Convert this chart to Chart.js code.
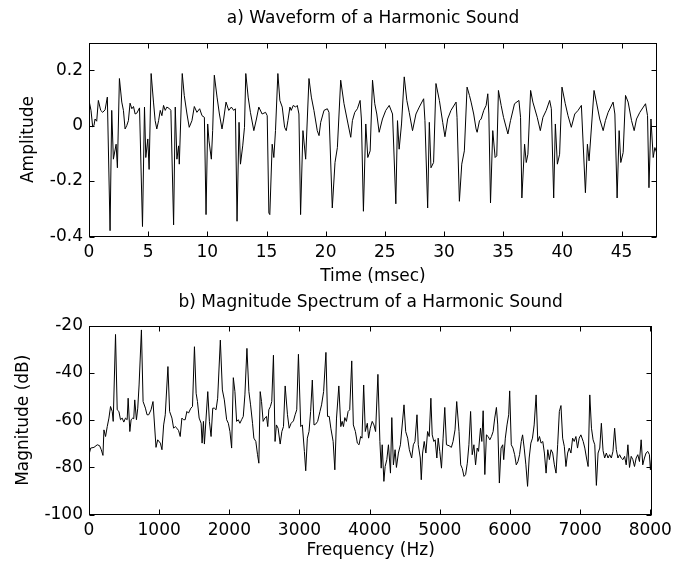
<!DOCTYPE html>
<html>
<head>
<meta charset="utf-8">
<script src="https://cdn.jsdelivr.net/npm/chart.js@4"></script>
<style>
  html, body { margin: 0; padding: 0; background: #fff; }
  body { width: 678px; height: 567px; position: relative; overflow: hidden; }
  .box { position: absolute; left: 0; width: 678px; }
  #boxA { top: 0; height: 300px; }
  #boxB { top: 283px; height: 284px; }
</style>
</head>
<body>
<div class="box" id="boxA"><canvas id="waveChart"></canvas></div>
<div class="box" id="boxB"><canvas id="specChart"></canvas></div>
<script>
// a) waveform, read off the picture period by period (time in msec, amplitude)
var timeMs = [
  0,0.17,0.31,0.42,0.51,0.65,0.79,0.99,1.16,1.36,1.55,
  1.78,1.92,2.06,2.29,2.40,2.57,2.77,2.91,3.05,3.19,3.33,3.47,3.62,3.76,3.90,4.04,4.27,
  4.52,4.69,4.80,4.97,5.08,5.25,5.45,5.59,5.73,5.88,6.02,6.16,6.30,6.44,6.58,6.81,6.92,
  7.15,7.29,7.43,7.57,7.63,7.88,8.05,8.28,8.47,8.70,8.90,9.12,9.35,9.55,9.75,
  9.89,10.03,10.14,10.34,10.45,10.59,10.82,11.02,11.24,11.38,11.58,11.81,12.03,12.23,12.37,
  12.51,12.68,12.80,12.99,13.14,13.25,13.45,13.64,13.93,14.15,14.35,14.63,14.92,15.06,
  15.20,15.28,15.48,15.62,15.76,15.96,16.13,16.33,16.53,16.67,16.81,16.98,17.09,17.26,17.46,17.60,17.74,
  17.88,18.08,18.31,18.59,18.79,19.01,19.29,19.44,19.58,19.86,20.14,20.28,
  20.56,20.79,20.99,21.27,21.55,21.89,22.12,22.26,22.46,22.68,22.91,23.02,
  23.19,23.39,23.56,23.76,23.96,24.15,24.32,24.52,24.80,25.08,25.37,25.65,
  25.93,26.07,26.21,26.41,26.64,26.86,27.06,27.34,27.63,27.91,28.28,28.39,
  28.62,28.76,28.90,29.12,29.32,29.61,29.89,30.08,30.31,30.59,31.02,31.10,
  31.30,31.50,31.72,31.95,32.15,32.29,32.51,32.71,32.80,33.00,33.14,33.36,33.56,33.70,33.79,
  33.93,34.12,34.32,34.46,34.60,34.83,35.03,35.40,35.62,35.96,36.33,36.47,
  36.58,36.81,36.95,37.09,37.32,37.51,37.88,38.14,38.36,38.64,38.93,39.07,
  39.27,39.41,39.58,39.77,39.97,40.25,40.48,40.76,41.05,41.33,41.61,
  41.95,42.12,42.26,42.68,42.88,43.16,43.45,43.64,43.87,44.29,44.44,
  44.63,44.80,44.94,45.14,45.34,45.56,45.85,46.07,46.27,46.55,47.03,47.20,
  47.32,47.49,47.68,47.82,47.97,48.0
];
var amplitude = [
  0.091,0.055,-0.004,0,0.024,0.016,0.091,0.055,0.048,0.057,0.103,
  -0.379,0.055,-0.121,-0.067,-0.152,0.170,0.085,0.055,-0.012,0,0.018,0.081,0.061,0.069,0.042,0.045,0.064,
  -0.364,0.067,-0.115,-0.048,-0.158,0.188,0.085,0.018,-0.012,0.018,0.055,0.036,0.073,0.055,0.067,0.061,0.055,
  -0.358,0.067,-0.121,-0.073,-0.139,0.188,0.109,0.042,-0.006,0.018,0.069,0.048,0.061,0.036,0.030,
  -0.321,0.006,-0.055,-0.121,-0.018,0.182,0.103,0.042,-0.012,0.024,0.085,0.055,0.067,0.055,0.061,
  -0.345,0.012,-0.139,-0.073,-0.006,0.188,0.103,0.048,-0.018,0.024,0.067,0.042,0.048,0.036,
  -0.315,-0.321,-0.067,-0.115,-0.018,0.188,0.091,0.067,-0.006,-0.018,0.018,0.067,0.055,0.073,0.067,0.073,0.042,
  -0.321,-0.018,-0.121,0.170,0.103,0.055,-0.018,-0.036,0.012,0.055,0.061,0.048,
  -0.297,-0.133,-0.079,0.164,0.079,0.006,-0.042,0.018,0.048,0.061,0.091,0.024,
  -0.309,0.006,-0.115,-0.091,0.164,0.079,0.042,-0.024,0.024,0.055,0.073,0.042,
  -0.282,0.018,-0.085,0.006,0.176,0.091,0.048,-0.018,0.042,0.067,0.097,0.018,
  -0.297,0.012,-0.152,-0.133,0.152,0.091,0.012,-0.040,0.024,0.055,0.085,0.030,
  -0.273,-0.139,-0.091,0.139,0.109,0.085,0.042,-0.012,-0.024,0.018,0.024,0.055,0.073,0.115,0.042,
  -0.279,-0.018,-0.115,-0.109,0.127,0.073,0.030,-0.030,0.018,0.079,0.091,0.030,
  -0.261,-0.067,-0.133,-0.103,0.127,0.085,0.030,-0.018,0.030,0.055,0.091,0.061,
  -0.261,0.006,-0.139,-0.103,0.139,0.079,0.036,-0.006,0.042,0.055,0.073,
  -0.242,-0.067,-0.127,0.127,0.085,0.024,-0.018,0.018,0.048,0.085,0.042,
  -0.261,-0.018,-0.133,-0.097,0.109,0.085,0.018,-0.018,0.024,0.048,0.079,0.036,
  -0.224,0.024,-0.115,-0.079,-0.097,0.097
];
var timeTicks = [0, 5, 10, 15, 20, 25, 30, 35, 40, 45];
var ampTicks = [-0.4, -0.2, 0, 0.2];

// b) magnitude spectrum (Hz, dB)
var freqHz = [
  0,24,71,118,151,175,199,213,236,260,284,307,331,345,
  378,402,426,449,473,496,520,544,558,582,600,624,638,652,676,695,714,
  747,771,804,827,851,884,912,955,979,1017,1040,1064,1087,
  1125,1149,1182,1206,1229,1253,1277,1300,1324,1347,1371,1395,1418,1452,1475,
  1503,1527,1546,1570,1598,1612,1631,1645,1693,1716,1740,1764,1787,1811,1834,
  1872,1901,1929,1962,1986,2009,2033,2057,2080,2104,2128,2151,2175,2199,2222,
  2251,2279,2303,2331,2350,2378,2402,2421,2440,2459,2482,2506,2530,2548,2563,2586,2605,
  2629,2652,2671,2695,2725,2749,2772,2796,2829,2853,2881,2914,2938,2961,
  2985,3018,3041,3070,3089,3112,3136,3159,3183,3207,3230,3259,3292,3315,3344,
  3377,3400,3424,3447,3480,3504,3528,3561,3589,3608,3627,3646,3669,3693,3716,
  3745,3768,3797,3825,3849,3872,3891,3915,3938,3967,3985,4009,4037,4061,4085,
  4118,4146,4165,4179,4203,4221,4245,4268,4297,4316,4339,4363,4382,4410,4439,
  4490,4514,4542,4566,4599,4623,4646,4675,4693,4722,4736,4755,4778,4802,4826,4849,
  4873,4892,4915,4934,4958,4977,5000,5024,5047,5071,5095,5132,5165,5189,5217,
  5241,5274,5298,5321,5345,5368,5392,5415,5439,5462,5486,5510,5533,5552,5580,5599,
  5618,5642,5665,5689,5713,5736,5760,5783,5807,5826,5849,5873,5897,5911,5934,5958,5982,
  5996,6019,6043,6067,6090,6114,6137,6161,6180,6203,6227,6251,6274,6298,6321,6345,
  6373,6397,6421,6444,6468,6491,6515,6539,6562,6586,6609,6633,6657,6680,6704,
  6727,6751,6775,6798,6822,6845,6869,6893,6916,6940,6963,6987,7011,7044,7067,7091,7114,
  7138,7162,7185,7209,7232,7256,7280,7303,7327,7350,7374,7398,7421,7445,7468,
  7492,7516,7539,7563,7586,7610,7634,7657,7681,7704,7728,7752,7775,7799,7822,7846,7870,7893,7917,7940,7964,7988,8002,8016
];
var magnitudeDb = [
  -74.6,-71.8,-71.5,-70.4,-70.8,-72.5,-74.9,-64.1,-66.9,-62.7,-59.1,-54.2,-56.3,-60.5,
  -23.7,-55.6,-56.3,-59.8,-59.1,-60.8,-59.1,-59.8,-50.7,-64.8,-59.8,-59.1,-59.4,-51.4,-59.8,-54.9,-45.1,
  -21.8,-52.1,-54.9,-57.7,-57.7,-55.6,-52.1,-71.5,-68.3,-69.7,-72.5,-62.0,-57.7,
  -37.3,-56.3,-59.1,-63.4,-62.7,-63.4,-64.4,-66.9,-59.1,-59.8,-59.8,-56.3,-57.0,-54.9,-54.2,
  -28.9,-48.6,-52.1,-59.1,-61.3,-69.7,-60.5,-70.1,-47.9,-60.5,-66.9,-54.9,-54.9,-55.6,-50.7,
  -26.1,-47.2,-51.4,-59.8,-61.3,-64.8,-71.8,-42.0,-47.9,-60.5,-59.8,-61.3,-59.8,-58.4,-49.3,
  -29.6,-47.9,-53.5,-61.3,-67.6,-69.0,-74.6,-78.2,-47.9,-52.1,-60.5,-59.1,-58.4,-62.7,-55.6,-54.2,-52.1,
  -32.5,-69.0,-62.0,-63.4,-70.1,-64.8,-62.7,-45.5,-57.7,-63.4,-61.3,-60.3,-57.7,-55.6,
  -32.1,-62.7,-62.0,-73.2,-81.4,-67.6,-64.8,-56.3,-43.0,-62.0,-61.7,-60.5,-56.3,-53.5,-47.9,
  -31.3,-58.4,-58.4,-63.4,-69.0,-81.0,-59.1,-45.5,-62.7,-60.5,-62.7,-58.9,-60.5,-56.3,-55.6,
  -34.9,-62.0,-64.8,-69.7,-70.4,-66.9,-67.6,-45.1,-64.8,-61.3,-67.6,-63.4,-60.5,-62.0,-64.8,
  -40.6,-69.0,-80.3,-70.4,-85.9,-79.6,-76.7,-70.4,-82.4,-58.9,-78.9,-72.5,-80.0,-73.9,-70.4,
  -53.5,-64.8,-67.6,-72.5,-76.0,-70.4,-69.0,-57.7,-70.4,-76.0,-85.2,-73.9,-69.0,-73.9,-64.8,-66.9,
  -50.7,-66.2,-69.0,-68.3,-76.0,-67.6,-73.2,-80.3,-67.6,-54.6,-70.4,-70.8,-71.5,-69.0,-64.1,
  -52.1,-64.8,-78.9,-80.5,-83.8,-83.0,-78.2,-70.4,-56.3,-74.6,-70.4,-78.9,-71.8,-73.2,-63.4,-69.0,
  -56.0,-83.0,-66.2,-66.9,-68.3,-66.9,-64.8,-59.1,-54.6,-62.0,-86.6,-71.8,-70.4,-76.7,-67.6,-62.0,-57.7,
  -47.6,-70.4,-71.8,-74.6,-78.9,-77.5,-74.6,-69.0,-66.2,-71.8,-78.9,-88.0,-76.0,-69.7,-67.6,-62.0,
  -49.3,-69.0,-66.9,-69.7,-69.0,-73.9,-82.4,-72.5,-76.7,-72.5,-73.9,-78.9,-82.4,-70.4,-56.3,
  -53.8,-67.6,-71.1,-79.6,-73.9,-71.8,-73.9,-67.6,-69.0,-66.9,-71.8,-67.6,-66.2,-69.0,-71.8,-76.0,-79.6,
  -49.3,-63.4,-68.3,-70.4,-87.6,-73.9,-71.8,-61.3,-72.9,-76.0,-73.9,-76.0,-74.6,-76.0,-73.2,
  -63.4,-72.5,-76.0,-74.6,-76.0,-76.7,-75.3,-78.9,-70.4,-80.0,-75.3,-76.7,-79.6,-76.0,-74.6,-77.5,-68.3,-78.9,-76.0,-73.9,-73.2,-74.6,-81.0,-76.7
];
var freqTicks = [0, 1000, 2000, 3000, 4000, 5000, 6000, 7000, 8000];
var dbTicks = [-100, -80, -60, -40, -20];

var FONT = "'DejaVu Sans', 'Liberation Sans', Arial, sans-serif";
var FS = 17;

function toPoints(xs, ys) {
    var pts = [];
    for (var i = 0; i < xs.length; i++) pts.push({x: xs[i], y: ys[i]});
    return pts;
}

function fixedTicks(list) {
    return function (s) {
        s.ticks = list.map(function (v) { return {value: v}; });
    };
}

function plain(v) {
    return String(Math.round(v * 100) / 100);
}

// matlab style box with ticks pointing into the plot on all four sides
var boxTicks = {
    id: "boxTicks",
    afterDatasetsDraw: function (chart) {
        var ctx = chart.ctx, a = chart.chartArea;
        var xs = chart.scales.x, ys = chart.scales.y;
        var L = Math.round(a.left) + 0.5, R = Math.round(a.right) - 0.5;
        var T = Math.round(a.top) + 0.5, B = Math.round(a.bottom) - 0.5;
        ctx.save();
        ctx.strokeStyle = "#000";
        ctx.lineWidth = 1;
        ctx.strokeRect(L, T, R - L, B - T);
        ctx.beginPath();
        xs.ticks.forEach(function (t) {
            var px = Math.round(xs.getPixelForValue(t.value)) + 0.5;
            ctx.moveTo(px, B); ctx.lineTo(px, B - 5);
            ctx.moveTo(px, T); ctx.lineTo(px, T + 5);
        });
        ys.ticks.forEach(function (t) {
            var py = Math.round(ys.getPixelForValue(t.value)) + 0.5;
            ctx.moveTo(L, py); ctx.lineTo(L + 5, py);
            ctx.moveTo(R, py); ctx.lineTo(R - 5, py);
        });
        ctx.stroke();
        ctx.restore();
    }
};

function makeChart(id, cfg) {
    var font = {family: FONT, size: FS};
    return new Chart(document.getElementById(id).getContext("2d"), {
        type: "line",
        data: {
            datasets: [{
                data: cfg.points,
                xAxisID: "x",
                yAxisID: "y",
                borderColor: "#000",
                borderWidth: 1,
                pointRadius: 0,
                tension: 0,
                fill: false
            }]
        },
        options: {
            responsive: true,
            maintainAspectRatio: false,
            animation: false,
            events: [],
            layout: { padding: { left: 0, right: 21, top: 0, bottom: 0 } },
            plugins: {
                legend: { display: false },
                tooltip: { enabled: false },
                title: { display: false }
            },
            scales: {
                // empty top axis, only carries the plot title centred over the box
                top: {
                    type: "linear",
                    position: "top",
                    min: cfg.xMin,
                    max: cfg.xMax,
                    grid: { display: false, drawTicks: false },
                    border: { display: false },
                    ticks: { display: false },
                    title: {
                        display: true,
                        text: cfg.title,
                        color: "#000",
                        font: font,
                        padding: {top: cfg.titleTop, bottom: 0}
                    },
                    afterFit: function (s) { s.height = cfg.topHeight; }
                },
                x: {
                    type: "linear",
                    position: "bottom",
                    min: cfg.xMin,
                    max: cfg.xMax,
                    grid: { display: false, drawTicks: false },
                    border: { display: false },
                    afterBuildTicks: fixedTicks(cfg.xTicks),
                    ticks: {
                        autoSkip: false,
                        maxRotation: 0,
                        padding: 6,
                        color: "#000",
                        font: font,
                        callback: plain
                    },
                    title: {
                        display: true,
                        text: cfg.xTitle,
                        color: "#000",
                        font: font,
                        padding: {top: 0, bottom: cfg.xTitleBottom}
                    },
                    afterFit: function (s) { s.height = cfg.xHeight; }
                },
                y: {
                    min: cfg.yMin,
                    max: cfg.yMax,
                    grid: { display: false, drawTicks: false },
                    border: { display: false },
                    afterBuildTicks: fixedTicks(cfg.yTicks),
                    ticks: {
                        padding: 6,
                        color: "#000",
                        font: font,
                        callback: plain
                    },
                    title: {
                        display: true,
                        text: cfg.yTitle,
                        color: "#000",
                        font: font,
                        padding: {top: cfg.yTitleTop, bottom: 0}
                    },
                    afterFit: function (s) { s.width = 89; }
                }
            }
        },
        plugins: [boxTicks]
    });
}

makeChart("waveChart", {
    points: toPoints(timeMs, amplitude),
    title: "a) Waveform of a Harmonic Sound",
    titleTop: 8,
    topHeight: 42.5,
    xMin: 0, xMax: 48, xTicks: timeTicks,
    xTitle: "Time (msec)",
    xTitleBottom: 13,
    xHeight: 63.5,
    yMin: -0.4, yMax: 0.3, yTicks: ampTicks,
    yTitle: "Amplitude",
    yTitleTop: 18
});

makeChart("specChart", {
    points: toPoints(freqHz, magnitudeDb),
    title: "b) Magnitude Spectrum of a Harmonic Sound",
    titleTop: 9,
    topHeight: 42.7,
    xMin: 0, xMax: 8030, xTicks: freqTicks,
    xTitle: "Frequency (Hz)",
    xTitleBottom: 6,
    xHeight: 52.3,
    yMin: -100, yMax: -20, yTicks: dbTicks,
    yTitle: "Magnitude (dB)",
    yTitleTop: 13
});
</script>
</body>
</html>
